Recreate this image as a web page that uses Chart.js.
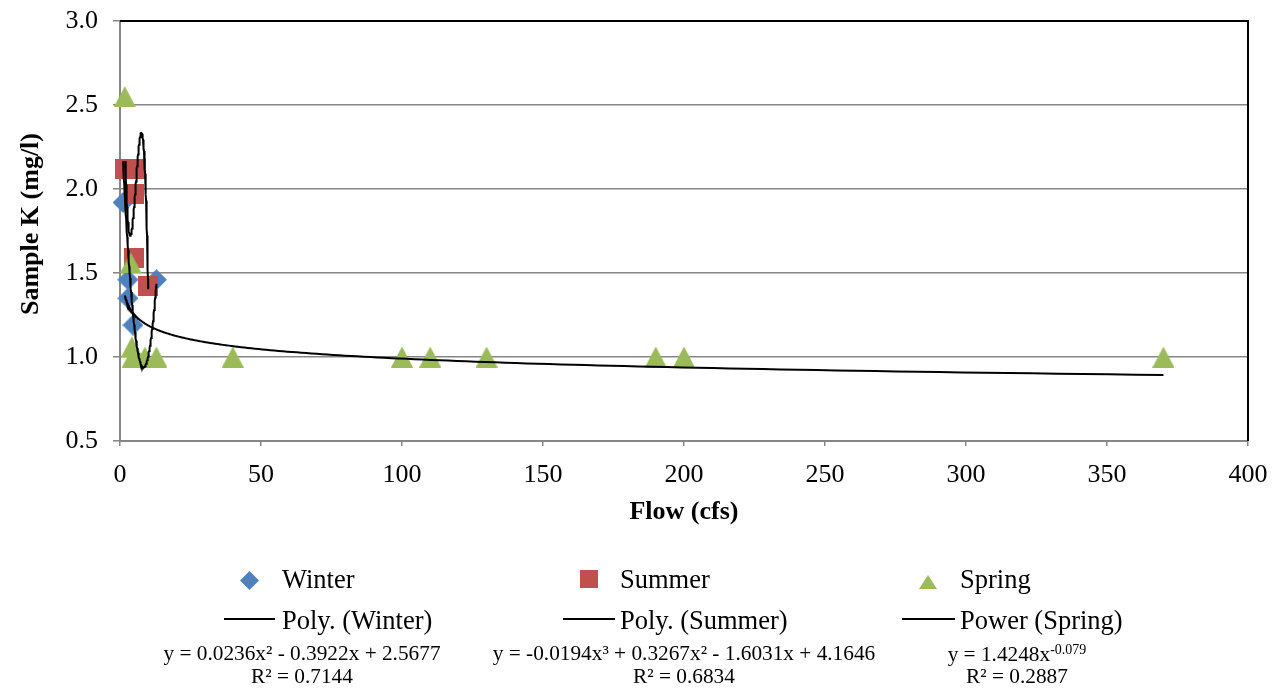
<!DOCTYPE html>
<html>
<head>
<meta charset="utf-8">
<script src="https://cdn.jsdelivr.net/npm/chart.js@4.4.1/dist/chart.umd.min.js"></script>
<style>
  html, body { margin: 0; padding: 0; background: #fff; }
  #wrap { position: relative; width: 1283px; height: 690px; overflow: hidden;
          font-family: "Liberation Serif", "Times New Roman", serif; color: #000; }
  #chart { position: absolute; left: 0; top: 0; }
  .txt { position: absolute; white-space: nowrap; line-height: 1; }
  .big { font-size: 26.5px; }
  .eq { font-size: 21.3px; width: 440px; text-align: center; }
  .title { font-size: 26px; font-weight: bold; transform: translate(-50%, -50%); }
  .rot { transform: translate(-50%, -50%) rotate(-90deg); }
  .line { position: absolute; height: 2px; background: #000; }
  svg { position: absolute; }
</style>
</head>
<body>
<div id="wrap">
  <canvas id="chart" width="1283" height="690"></canvas>

  <div class="txt title rot" style="left:30px; top:224px;">Sample K (mg/l)</div>
  <div class="txt title" style="left:684px; top:511px;">Flow (cfs)</div>

  <!-- legend: markers -->
  <svg style="left:240px; top:571px;" width="19" height="19"><polygon points="9.5,0 19,9.5 9.5,19 0,9.5" fill="#4F81BD"/></svg>
  <div class="txt big" style="left:282px; top:566px;">Winter</div>
  <svg style="left:580px; top:570px;" width="18" height="18"><rect x="0" y="0" width="18" height="18" fill="#C0504D"/></svg>
  <div class="txt big" style="left:620px; top:566px;">Summer</div>
  <svg style="left:919px; top:575px;" width="18" height="14"><polygon points="9,0 18,14 0,14" fill="#9BBB59"/></svg>
  <div class="txt big" style="left:960px; top:566px;">Spring</div>

  <!-- legend: trend lines -->
  <div class="line" style="left:224px; top:618px; width:51px;"></div>
  <div class="txt big" style="left:282px; top:607px;">Poly. (Winter)</div>
  <div class="line" style="left:563px; top:618px; width:52px;"></div>
  <div class="txt big" style="left:620px; top:607px;">Poly. (Summer)</div>
  <div class="line" style="left:902px; top:618px; width:53px;"></div>
  <div class="txt big" style="left:960px; top:607px;">Power (Spring)</div>

  <!-- legend: equations -->
  <div class="txt eq" style="left:82px; top:643px;">y = 0.0236x² - 0.3922x + 2.5677</div>
  <div class="txt eq" style="left:82px; top:666px;">R² = 0.7144</div>
  <div class="txt eq" style="left:464px; top:643px;">y = -0.0194x³ + 0.3267x² - 1.6031x + 4.1646</div>
  <div class="txt eq" style="left:464px; top:666px;">R² = 0.6834</div>
  <div class="txt eq" style="left:797px; top:643px;">y = 1.4248x<span style="font-size:14px; vertical-align:7px;">-0.079</span></div>
  <div class="txt eq" style="left:797px; top:666px;">R² = 0.2887</div>
</div>

<script>
// Sample data (flow in cfs, potassium in mg/l)
const winterFlow = [1.1, 2.8, 2.8, 4.6, 12.9];
const winterK = [1.92, 1.46, 1.35, 1.19, 1.46];

const summerFlow = [1.9, 5.8, 5.0, 4.9, 10];
const summerK = [2.12, 2.12, 1.97, 1.59, 1.42];

const springFlow = [1.7, 3.8, 4.2, 4.5, 8.8, 12.9, 40, 100, 110, 130, 190, 200, 370];
const springK = [2.55, 1.56, 1.06, 1.0, 1.0, 1.0, 1.0, 1.0, 1.0, 1.0, 1.0, 1.0, 1.0];

// Trend line coefficients as printed under the legend
const winterPoly = [2.5677, -0.3922, 0.0236];          // c0 + c1 x + c2 x^2
const summerPoly = [4.1646, -1.6031, 0.3267, -0.0194]; // up to x^3
const springPower = [1.4248, -0.079];                  // a * x^b

// Axis ranges
const flowMin = 0, flowMax = 400, flowStep = 50;
const kMin = 0.5, kMax = 3.0, kStep = 0.5;

const FONT = '"Liberation Serif", "Times New Roman", serif';
const GRID = '#868686';

function toPoints(xs, ys) {
    return xs.map((x, i) => ({ x: x, y: ys[i] }));
}

function polyAt(c, x) {
    return c.reduce((s, a, i) => s + a * Math.pow(x, i), 0);
}

// Excel draws a trend line across the x range of its series
function trendLine(xs, fn, n, logSpaced) {
    const lo = Math.min(...xs), hi = Math.max(...xs);
    const pts = [];
    for (let i = 0; i <= n; i++) {
        const t = i / n;
        const x = logSpaced ? lo * Math.pow(hi / lo, t) : lo + (hi - lo) * t;
        pts.push({ x: x, y: fn(x) });
    }
    return pts;
}

// Marker images, so they sit centred like Excel's
function marker(shape, color, w, h) {
    const c = document.createElement('canvas');
    c.width = w; c.height = h;
    const g = c.getContext('2d');
    g.fillStyle = color;
    g.beginPath();
    if (shape === 'diamond') {
        g.moveTo(w / 2, 0); g.lineTo(w, h / 2); g.lineTo(w / 2, h); g.lineTo(0, h / 2);
    } else if (shape === 'square') {
        g.rect(0, 0, w, h);
    } else {
        g.moveTo(w / 2, 0); g.lineTo(w, h); g.lineTo(0, h);
    }
    g.closePath();
    g.fill();
    return c;
}

// Plot area border: black on top and right
const frame = {
    id: 'frame',
    beforeDatasetsDraw(chart) {
        const { ctx, chartArea: a } = chart;
        ctx.save();
        ctx.strokeStyle = '#000';
        ctx.lineWidth = 2;
        ctx.beginPath();
        ctx.moveTo(a.left, a.top);
        ctx.lineTo(a.right, a.top);
        ctx.lineTo(a.right, a.bottom);
        ctx.stroke();
        ctx.restore();
    }
};

const trendStyle = { showLine: true, borderColor: '#000', borderWidth: 2, pointRadius: 0, tension: 0, fill: false, order: 0, clip: false };

new Chart(document.getElementById('chart'), {
    type: 'scatter',
    data: {
        datasets: [
            Object.assign({ label: 'Poly. (Winter)', data: trendLine(winterFlow, x => polyAt(winterPoly, x), 120, false) }, trendStyle),
            Object.assign({ label: 'Poly. (Summer)', data: trendLine(summerFlow, x => polyAt(summerPoly, x), 120, false) }, trendStyle),
            Object.assign({ label: 'Power (Spring)', data: trendLine(springFlow, x => springPower[0] * Math.pow(x, springPower[1]), 200, true) }, trendStyle),
            {
                label: 'Winter', data: toPoints(winterFlow, winterK),
                pointStyle: marker('diamond', '#4F81BD', 21, 21), pointRadius: 10, order: 3, clip: false
            },
            {
                label: 'Summer', data: toPoints(summerFlow, summerK),
                pointStyle: marker('square', '#C0504D', 20, 20), pointRadius: 10, order: 2, clip: false
            },
            {
                label: 'Spring', data: toPoints(springFlow, springK),
                pointStyle: marker('triangle', '#9BBB59', 22, 21), pointRadius: 10, order: 1, clip: false
            }
        ]
    },
    options: {
        responsive: false,
        animation: false,
        devicePixelRatio: 1,
        layout: { padding: { top: 21, right: 35, left: 0, bottom: 0 } },
        plugins: { legend: { display: false }, tooltip: { enabled: false } },
        scales: {
            x: {
                type: 'linear', min: flowMin, max: flowMax,
                ticks: { stepSize: flowStep, padding: 14, autoSkip: false, maxRotation: 0, color: '#000', font: { family: FONT, size: 26 } },
                grid: { drawOnChartArea: false, tickLength: 5, color: GRID, lineWidth: 1.5 },
                border: { color: GRID, width: 2 },
                afterFit(s) { s.height = 249; s.paddingLeft = 0; s.paddingRight = 0; }
            },
            y: {
                type: 'linear', min: kMin, max: kMax,
                ticks: { stepSize: kStep, padding: 15, color: '#000', font: { family: FONT, size: 26 }, callback: v => v.toFixed(1) },
                grid: { tickLength: 7, color: GRID, lineWidth: 1.5 },
                border: { color: GRID, width: 2 },
                afterFit(s) { s.width = 120; s.paddingTop = 0; s.paddingBottom = 0; }
            }
        }
    },
    plugins: [frame]
});
</script>
</body>
</html>
